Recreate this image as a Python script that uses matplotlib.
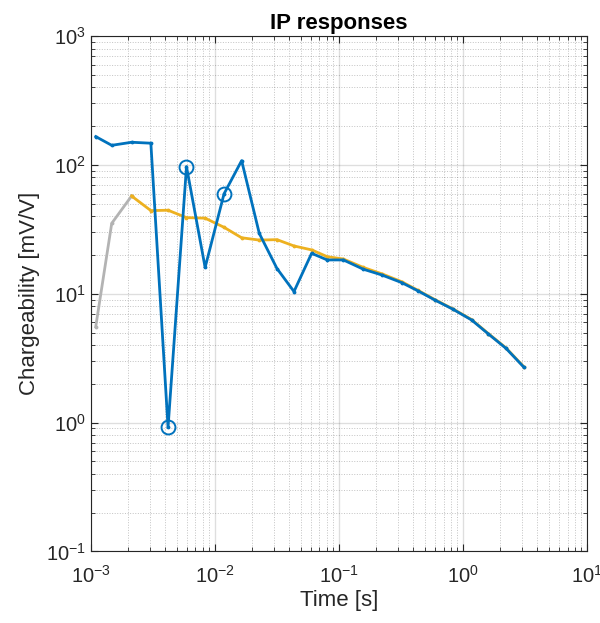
import numpy as np
import matplotlib.pyplot as plt

plt.rcParams['font.family'] = ['Liberation Sans', 'DejaVu Sans']
plt.rcParams['mathtext.fontset'] = 'custom'
plt.rcParams['mathtext.rm'] = 'Liberation Sans'
plt.rcParams['mathtext.it'] = 'Liberation Sans:italic'
plt.rcParams['mathtext.bf'] = 'Liberation Sans:bold'
plt.rcParams['axes.unicode_minus'] = False

# gate centre times [s]
t = [1.10e-3, 1.48e-3, 2.14e-3, 3.06e-3, 4.21e-3, 5.93e-3, 8.38e-3, 1.19e-2,
     1.65e-2, 2.29e-2, 3.18e-2, 4.36e-2, 6.05e-2, 8.08e-2, 0.109, 0.158,
     0.222, 0.322, 0.438, 0.597, 0.838, 1.18, 1.61, 2.23, 3.12]

# measured data (blue)
data = [166, 142, 150, 147.5, 0.916, 97, 16.0, 59.6, 108, 29.4, 15.7, 10.4,
        20.6, 18.3, 18.3, 15.5, 14.0, 12.2, 10.5, 8.93, 7.56, 6.25, 4.87,
        3.77, 2.68]

# forward response (orange), first gates masked (gray)
resp = [5.55, 35.2, 57.4, 44.2, 44.5, 39.0, 38.6, 32.8, 27.2, 26.1, 26.3,
        23.5, 21.9, 19.4, 18.6, 16.0, 14.3, 12.4, 10.6, 9.0, 7.6, 6.3, 4.9,
        3.8, 2.7]
n_masked = 3

# flagged outlier gates
flag_idx = [4, 5, 7]

blue = '#0072BD'
orange = '#EDB120'
gray = '#B3B3B3'

fig = plt.figure(figsize=(6.0, 6.23), dpi=100)
ax = fig.add_axes([0.151, 0.115, 0.827, 0.827])

ax.plot(t[:n_masked], resp[:n_masked], '.-', color=gray, lw=2.0, ms=3.5)
ax.plot(t[n_masked - 1:], resp[n_masked - 1:], '.-', color=orange, lw=2.0, ms=3.5)
ax.plot(t, data, '.-', color=blue, lw=2.0, ms=3.5)
ax.plot([t[i] for i in flag_idx], [data[i] for i in flag_idx], 'o',
        mfc='none', mec=blue, ms=10, mew=1.4)

ax.set_xscale('log')
ax.set_yscale('log')
ax.set_xlim(1e-3, 1e1)
ax.set_ylim(1e-1, 1e3)

ax.grid(True, which='major', color='#262626', alpha=0.15, lw=1.0, ls='-')
ax.grid(True, which='minor', color='#262626', alpha=0.28, lw=0.7, ls=':')
ax.set_axisbelow(True)

ax.tick_params(which='both', direction='in', top=True, right=True,
               colors='#262626', labelsize=14.5)
ax.tick_params(which='major', length=5)
ax.tick_params(which='minor', length=3)
ax.tick_params(axis='x', pad=10)
for s in ax.spines.values():
    s.set_color('#262626')
    s.set_linewidth(0.8)

ax.set_xlabel('Time [s]', fontsize=16, color='#262626', labelpad=2)
ax.set_ylabel('Chargeability [mV/V]', fontsize=16, color='#262626')
ax.set_title('IP responses', fontsize=16, fontweight='bold', pad=5)

fig.savefig('out.png', dpi=100)
